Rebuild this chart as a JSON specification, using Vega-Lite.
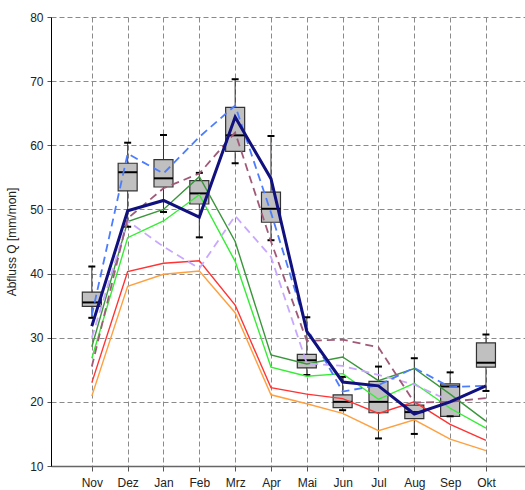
{
  "$schema": "https://vega.github.io/schema/vega-lite/v6.json",
  "autosize": {"type": "none"},
  "padding": {"left": 51, "top": 17, "right": 0, "bottom": 24},
  "width": 474,
  "height": 449,
  "background": "white",
  "config": {
    "view": {"stroke": null},
    "font": "Liberation Sans",
    "axis": {"labelFont": "Liberation Sans", "titleFont": "Liberation Sans", "labelFontSize": 12, "labelColor": "#222", "titleFontSize": 12, "titleFontWeight": "normal", "titleColor": "#222", "gridColor": "#8a8a8a", "gridDash": [5, 3], "gridWidth": 1, "tickColor": "#555"}
  },
  "datasets": {
    "boxes": [
      {"monat": 1, "min": 33.1, "q1": 34.9, "median": 35.5, "q3": 37.1, "max": 41.1},
      {"monat": 2, "min": 47.3, "q1": 52.9, "median": 55.8, "q3": 57.2, "max": 60.4},
      {"monat": 3, "min": 49.6, "q1": 53.5, "median": 54.85, "q3": 57.75, "max": 61.6},
      {"monat": 4, "min": 45.65, "q1": 50.85, "median": 52.5, "q3": 54.5, "max": 55.7},
      {"monat": 5, "min": 57.2, "q1": 59.05, "median": 61.55, "q3": 65.9, "max": 70.3},
      {"monat": 6, "min": 45.2, "q1": 48.0, "median": 50.1, "q3": 52.7, "max": 61.45},
      {"monat": 7, "min": 24.2, "q1": 25.3, "median": 26.5, "q3": 27.4, "max": 33.2},
      {"monat": 8, "min": 18.7, "q1": 19.1, "median": 20.0, "q3": 21.1, "max": 23.9},
      {"monat": 9, "min": 14.3, "q1": 18.3, "median": 20.0, "q3": 23.2, "max": 25.5},
      {"monat": 10, "min": 15.0, "q1": 17.4, "median": 18.4, "q3": 19.5, "max": 26.8},
      {"monat": 11, "min": 17.75, "q1": 17.75, "median": 22.4, "q3": 22.8, "max": 24.6},
      {"monat": 12, "min": 21.7, "q1": 25.4, "median": 26.1, "q3": 29.2, "max": 30.5}
    ],
    "lines": [
      {"serie": "orange", "monat": 1, "wert": 20.9}, {"serie": "orange", "monat": 2, "wert": 38.0}, {"serie": "orange", "monat": 3, "wert": 39.9}, {"serie": "orange", "monat": 4, "wert": 40.4}, {"serie": "orange", "monat": 5, "wert": 33.9}, {"serie": "orange", "monat": 6, "wert": 21.1}, {"serie": "orange", "monat": 7, "wert": 19.7}, {"serie": "orange", "monat": 8, "wert": 18.2}, {"serie": "orange", "monat": 9, "wert": 15.5}, {"serie": "orange", "monat": 10, "wert": 17.2}, {"serie": "orange", "monat": 11, "wert": 14.2}, {"serie": "orange", "monat": 12, "wert": 12.4},
      {"serie": "red", "monat": 1, "wert": 23.0}, {"serie": "red", "monat": 2, "wert": 40.3}, {"serie": "red", "monat": 3, "wert": 41.6}, {"serie": "red", "monat": 4, "wert": 42.0}, {"serie": "red", "monat": 5, "wert": 35.1}, {"serie": "red", "monat": 6, "wert": 22.2}, {"serie": "red", "monat": 7, "wert": 21.2}, {"serie": "red", "monat": 8, "wert": 20.5}, {"serie": "red", "monat": 9, "wert": 18.2}, {"serie": "red", "monat": 10, "wert": 20.0}, {"serie": "red", "monat": 11, "wert": 16.5}, {"serie": "red", "monat": 12, "wert": 14.0},
      {"serie": "ltgreen", "monat": 1, "wert": 26.8}, {"serie": "ltgreen", "monat": 2, "wert": 45.6}, {"serie": "ltgreen", "monat": 3, "wert": 48.2}, {"serie": "ltgreen", "monat": 4, "wert": 52.3}, {"serie": "ltgreen", "monat": 5, "wert": 41.9}, {"serie": "ltgreen", "monat": 6, "wert": 25.4}, {"serie": "ltgreen", "monat": 7, "wert": 24.0}, {"serie": "ltgreen", "monat": 8, "wert": 24.4}, {"serie": "ltgreen", "monat": 9, "wert": 20.4}, {"serie": "ltgreen", "monat": 10, "wert": 22.9}, {"serie": "ltgreen", "monat": 11, "wert": 19.0}, {"serie": "ltgreen", "monat": 12, "wert": 15.9},
      {"serie": "dkgreen", "monat": 1, "wert": 28.6}, {"serie": "dkgreen", "monat": 2, "wert": 48.1}, {"serie": "dkgreen", "monat": 3, "wert": 50.0}, {"serie": "dkgreen", "monat": 4, "wert": 55.1}, {"serie": "dkgreen", "monat": 5, "wert": 45.0}, {"serie": "dkgreen", "monat": 6, "wert": 27.3}, {"serie": "dkgreen", "monat": 7, "wert": 25.9}, {"serie": "dkgreen", "monat": 8, "wert": 27.0}, {"serie": "dkgreen", "monat": 9, "wert": 23.3}, {"serie": "dkgreen", "monat": 10, "wert": 25.2}, {"serie": "dkgreen", "monat": 11, "wert": 21.2}, {"serie": "dkgreen", "monat": 12, "wert": 17.0},
      {"serie": "lavender", "monat": 1, "wert": 30.0}, {"serie": "lavender", "monat": 2, "wert": 48.2}, {"serie": "lavender", "monat": 3, "wert": 44.2}, {"serie": "lavender", "monat": 4, "wert": 40.8}, {"serie": "lavender", "monat": 5, "wert": 49.0}, {"serie": "lavender", "monat": 6, "wert": 42.6}, {"serie": "lavender", "monat": 7, "wert": 26.0}, {"serie": "lavender", "monat": 8, "wert": 25.6}, {"serie": "lavender", "monat": 9, "wert": 24.2}, {"serie": "lavender", "monat": 10, "wert": 22.7}, {"serie": "lavender", "monat": 11, "wert": 20.1}, {"serie": "lavender", "monat": 12, "wert": 22.5},
      {"serie": "mauve", "monat": 1, "wert": 25.5}, {"serie": "mauve", "monat": 2, "wert": 48.6}, {"serie": "mauve", "monat": 3, "wert": 53.3}, {"serie": "mauve", "monat": 4, "wert": 55.6}, {"serie": "mauve", "monat": 5, "wert": 62.0}, {"serie": "mauve", "monat": 6, "wert": 45.0}, {"serie": "mauve", "monat": 7, "wert": 29.5}, {"serie": "mauve", "monat": 8, "wert": 29.7}, {"serie": "mauve", "monat": 9, "wert": 28.5}, {"serie": "mauve", "monat": 10, "wert": 19.9}, {"serie": "mauve", "monat": 11, "wert": 20.0}, {"serie": "mauve", "monat": 12, "wert": 20.6},
      {"serie": "blue", "monat": 1, "wert": 33.5}, {"serie": "blue", "monat": 2, "wert": 58.7}, {"serie": "blue", "monat": 3, "wert": 55.6}, {"serie": "blue", "monat": 4, "wert": 61.3}, {"serie": "blue", "monat": 5, "wert": 66.2}, {"serie": "blue", "monat": 6, "wert": 49.5}, {"serie": "blue", "monat": 7, "wert": 31.5}, {"serie": "blue", "monat": 8, "wert": 21.6}, {"serie": "blue", "monat": 9, "wert": 22.6}, {"serie": "blue", "monat": 10, "wert": 25.3}, {"serie": "blue", "monat": 11, "wert": 22.3}, {"serie": "blue", "monat": 12, "wert": 22.5},
      {"serie": "navy", "monat": 1, "wert": 31.8}, {"serie": "navy", "monat": 2, "wert": 49.8}, {"serie": "navy", "monat": 3, "wert": 51.4}, {"serie": "navy", "monat": 4, "wert": 48.8}, {"serie": "navy", "monat": 5, "wert": 64.4}, {"serie": "navy", "monat": 6, "wert": 54.8}, {"serie": "navy", "monat": 7, "wert": 31.0}, {"serie": "navy", "monat": 8, "wert": 23.1}, {"serie": "navy", "monat": 9, "wert": 22.5}, {"serie": "navy", "monat": 10, "wert": 18.1}, {"serie": "navy", "monat": 11, "wert": 20.0}, {"serie": "navy", "monat": 12, "wert": 22.5}
    ]
  },
  "encoding": {
    "x": {"field": "monat", "type": "quantitative", "scale": {"domain": [0, 12.95], "nice": false, "zero": false},
      "axis": {"title": null, "values": [1,2,3,4,5,6,7,8,9,10,11,12], "labelExpr": "['','Nov','Dez','Jan','Feb','Mrz','Apr','Mai','Jun','Jul','Aug','Sep','Okt'][datum.value]", "domainColor": "#666", "domainWidth": 1.5, "tickSize": 5, "labelPadding": 6, "grid": true}}
  },
  "layer": [
    {
      "data": {"name": "boxes"},
      "mark": {"type": "rule", "color": "#333", "strokeWidth": 1},
      "encoding": {
        "y": {"field": "min", "type": "quantitative", "scale": {"domain": [10, 80], "nice": false, "zero": false},
          "axis": {"title": "Abfluss Q [mm/mon]", "values": [10,20,30,40,50,60,70,80], "domainColor": "#000", "domainWidth": 1, "tickSize": 4, "labelPadding": 4, "titlePadding": 11, "grid": true}},
        "y2": {"field": "max"}
      }
    },
    {
      "data": {"name": "boxes"},
      "mark": {"type": "bar", "size": 19, "fill": "#c0c0c0", "stroke": "#333", "strokeWidth": 1.2},
      "encoding": {"y": {"field": "q1", "type": "quantitative"}, "y2": {"field": "q3"}}
    },
    {
      "data": {"name": "boxes"},
      "mark": {"type": "tick", "orient": "horizontal", "size": 19, "thickness": 2, "color": "#000", "opacity": 1},
      "encoding": {"y": {"field": "median", "type": "quantitative"}}
    },
    {
      "data": {"name": "boxes"},
      "mark": {"type": "tick", "orient": "horizontal", "size": 7, "thickness": 2, "color": "#000", "opacity": 1},
      "encoding": {"y": {"field": "min", "type": "quantitative"}}
    },
    {
      "data": {"name": "boxes"},
      "mark": {"type": "tick", "orient": "horizontal", "size": 7, "thickness": 2, "color": "#000", "opacity": 1},
      "encoding": {"y": {"field": "max", "type": "quantitative"}}
    },
    {
      "data": {"name": "lines"},
      "transform": [{"filter": "datum.serie == 'orange' || datum.serie == 'red' || datum.serie == 'ltgreen' || datum.serie == 'dkgreen'"}],
      "mark": {"type": "line", "strokeWidth": 1.4},
      "encoding": {
        "y": {"field": "wert", "type": "quantitative"},
        "color": {"field": "serie", "type": "nominal", "legend": null,
          "scale": {"domain": ["orange", "red", "ltgreen", "dkgreen", "lavender", "mauve", "blue", "navy"], "range": ["#ffa040", "#ff3333", "#33ee33", "#3a963a", "#c8a8ff", "#a05a78", "#4d7dff", "#10107e"]}},
        "order": {"field": "monat", "type": "quantitative"}
      }
    },
    {
      "data": {"name": "lines"},
      "transform": [{"filter": "datum.serie == 'lavender' || datum.serie == 'mauve' || datum.serie == 'blue'"}],
      "mark": {"type": "line", "strokeWidth": 1.8, "strokeDash": [8, 5]},
      "encoding": {
        "y": {"field": "wert", "type": "quantitative"},
        "color": {"field": "serie", "type": "nominal", "legend": null},
        "order": {"field": "monat", "type": "quantitative"}
      }
    },
    {
      "data": {"name": "lines"},
      "transform": [{"filter": "datum.serie == 'navy'"}],
      "mark": {"type": "line", "strokeWidth": 3},
      "encoding": {
        "y": {"field": "wert", "type": "quantitative"},
        "color": {"field": "serie", "type": "nominal", "legend": null},
        "order": {"field": "monat", "type": "quantitative"}
      }
    },
    {
      "mark": {"type": "rule", "color": "#000", "strokeWidth": 1},
      "encoding": {"y": {"datum": 80}, "x": {"datum": 0}, "x2": {"datum": 12.95}}
    }
  ]
}
